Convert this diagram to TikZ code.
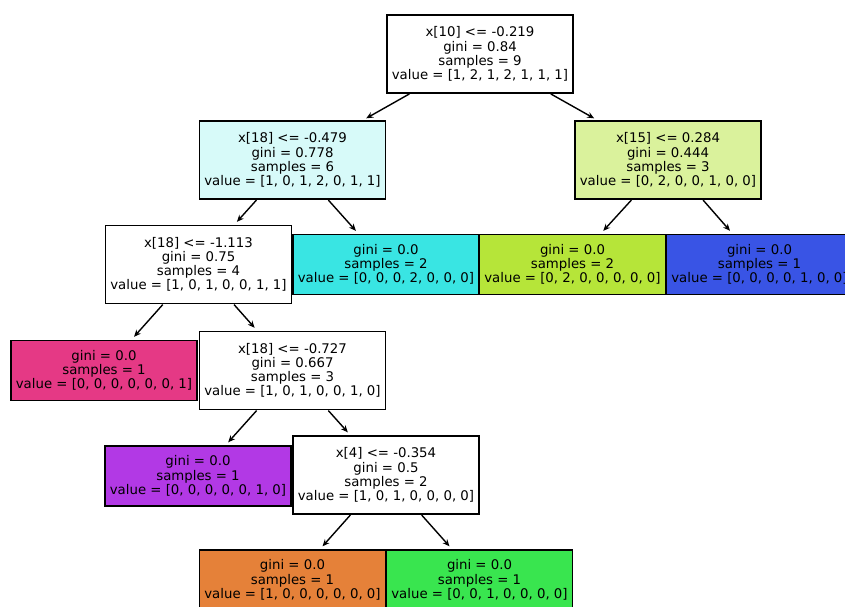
\documentclass[tikz,border=0pt]{standalone}
\usepackage{fontspec}
\setmainfont{DejaVu Sans}
\usetikzlibrary{arrows.meta}
\definecolor{cwhite}{RGB}{255,255,255}
\definecolor{clcyan}{RGB}{215,250,249}
\definecolor{clyel}{RGB}{218,242,156}
\definecolor{ccyan}{RGB}{57,229,227}
\definecolor{cyel}{RGB}{182,229,57}
\definecolor{cblue}{RGB}{57,84,229}
\definecolor{cpink}{RGB}{229,57,133}
\definecolor{cpurple}{RGB}{178,57,229}
\definecolor{corange}{RGB}{229,129,57}
\definecolor{cgreen}{RGB}{57,229,79}
\tikzset{
  split/.style={draw=black, line width=1.4pt, align=center, inner sep=0pt,
    minimum width=186pt, minimum height=78pt, font=\fontsize{13.3}{14.2}\selectfont},
  leaf/.style={split, minimum height=60pt},
  arr/.style={-{Stealth[length=7pt,width=6pt]}, line width=1.4pt, shorten >=4pt, shorten <=0.5pt}
}
\begin{document}
\begin{tikzpicture}[x=1pt,y=-1pt]
\useasboundingbox (0,0) rectangle (845,607);
\clip (0,0) rectangle (845,607);
\node[split, fill=cwhite] (root) at (480,54) {x[10] <= -0.219\\gini = 0.84\\samples = 9\\value = [1, 2, 1, 2, 1, 1, 1]};
\node[split, fill=clcyan] (n1) at (292.5,160) {x[18] <= -0.479\\gini = 0.778\\samples = 6\\value = [1, 0, 1, 2, 0, 1, 1]};
\node[split, fill=clyel] (n2) at (668,160) {x[15] <= 0.284\\gini = 0.444\\samples = 3\\value = [0, 2, 0, 0, 1, 0, 0]};
\node[split, fill=cwhite] (n3) at (198.5,264.5) {x[18] <= -1.113\\gini = 0.75\\samples = 4\\value = [1, 0, 1, 0, 0, 1, 1]};
\node[leaf, fill=ccyan] (lc) at (386,264.5) {gini = 0.0\\samples = 2\\value = [0, 0, 0, 2, 0, 0, 0]};
\node[leaf, fill=cyel] (ly) at (572.5,264.5) {gini = 0.0\\samples = 2\\value = [0, 2, 0, 0, 0, 0, 0]};
\node[leaf, fill=cblue] (lb) at (759.5,264.5) {gini = 0.0\\samples = 1\\value = [0, 0, 0, 0, 1, 0, 0]};
\node[leaf, fill=cpink] (lp) at (104,370.5) {gini = 0.0\\samples = 1\\value = [0, 0, 0, 0, 0, 0, 1]};
\node[split, fill=cwhite] (n4) at (292.5,370.5) {x[18] <= -0.727\\gini = 0.667\\samples = 3\\value = [1, 0, 1, 0, 0, 1, 0]};
\node[leaf, fill=cpurple] (lu) at (198,476) {gini = 0.0\\samples = 1\\value = [0, 0, 0, 0, 0, 1, 0]};
\node[split, fill=cwhite] (n5) at (386,475) {x[4] <= -0.354\\gini = 0.5\\samples = 2\\value = [1, 0, 1, 0, 0, 0, 0]};
\node[leaf, fill=corange] (lo) at (292.5,580) {gini = 0.0\\samples = 1\\value = [1, 0, 0, 0, 0, 0, 0]};
\node[leaf, fill=cgreen] (lg) at (479.5,580) {gini = 0.0\\samples = 1\\value = [0, 0, 1, 0, 0, 0, 0]};
\draw[arr] (root) -- (n1);
\draw[arr] (root) -- (n2);
\draw[arr] (n1) -- (n3);
\draw[arr] (n1) -- (lc);
\draw[arr] (n2) -- (ly);
\draw[arr] (n2) -- (lb);
\draw[arr] (n3) -- (lp);
\draw[arr] (n3) -- (n4);
\draw[arr] (n4) -- (lu);
\draw[arr] (n4) -- (n5);
\draw[arr] (n5) -- (lo);
\draw[arr] (n5) -- (lg);
\end{tikzpicture}
\end{document}
